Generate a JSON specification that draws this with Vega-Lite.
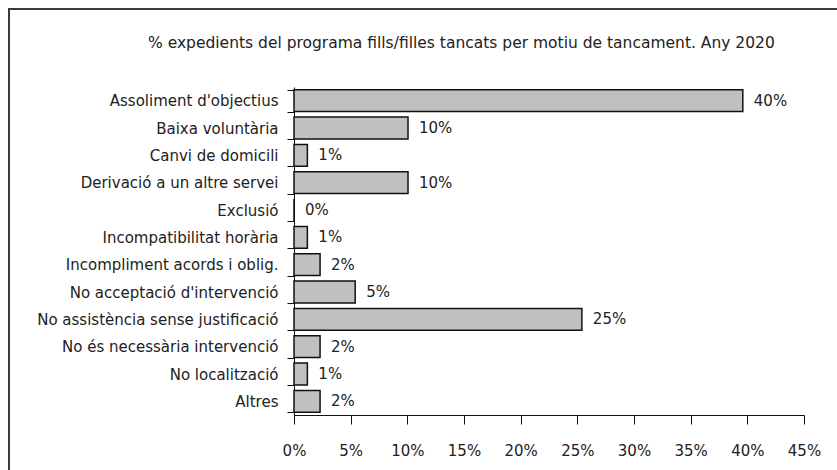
{
  "$schema": "https://vega.github.io/schema/vega-lite/v6.json",
  "width": 840,
  "height": 470,
  "autosize": {"type": "none"},
  "padding": {"left": 9, "top": 9, "right": 0, "bottom": 0},
  "background": "white",
  "title": {
    "text": "%  expedients del programa fills/filles tancats per motiu de tancament. Any 2020",
    "anchor": "start",
    "frame": "group",
    "dx": 139,
    "offset": -56,
    "baseline": "middle",
    "font": "DejaVu Sans",
    "fontSize": 15.5,
    "fontWeight": "normal",
    "color": "#222"
  },
  "data": {
    "values": [
      {"motiu": "Assoliment d'objectius", "pct": 0.396},
      {"motiu": "Baixa voluntària", "pct": 0.1006},
      {"motiu": "Canvi de domicili", "pct": 0.0118},
      {"motiu": "Derivació a un altre servei", "pct": 0.1006},
      {"motiu": "Exclusió", "pct": 0},
      {"motiu": "Incompatibilitat horària", "pct": 0.0118},
      {"motiu": "Incompliment acords i oblig.", "pct": 0.023},
      {"motiu": "No acceptació d'intervenció", "pct": 0.054},
      {"motiu": "No assistència sense justificació", "pct": 0.254},
      {"motiu": "No és necessària intervenció", "pct": 0.023},
      {"motiu": "No localització", "pct": 0.0118},
      {"motiu": "Altres", "pct": 0.023}
    ]
  },
  "encoding": {
    "y": {
      "field": "motiu",
      "type": "nominal",
      "sort": null,
      "scale": {"range": [78, 406], "paddingInner": 0.2, "paddingOuter": 0.1},
      "axis": {
        "title": null,
        "orient": "left",
        "offset": -285,
        "tickBand": "extent",
        "tickSize": 7,
        "tickColor": "#111",
        "domainColor": "#111",
        "labelPadding": 9,
        "labelFont": "DejaVu Sans",
        "labelFontSize": 15,
        "labelColor": "#222",
        "labelLimit": 400
      }
    },
    "x": {
      "field": "pct",
      "type": "quantitative",
      "scale": {"domain": [0, 0.45], "range": [285, 795], "nice": false},
      "axis": {
        "title": null,
        "orient": "bottom",
        "offset": -64,
        "format": ".0%",
        "values": [0, 0.05, 0.1, 0.15, 0.2, 0.25, 0.3, 0.35, 0.4, 0.45],
        "grid": false,
        "tickSize": 9,
        "tickColor": "#111",
        "domainColor": "#111",
        "labelPadding": 19,
        "labelBaseline": "top",
        "labelFont": "DejaVu Sans",
        "labelFontSize": 15,
        "labelColor": "#222",
        "labelFlush": false
      }
    }
  },
  "layer": [
    {
      "mark": {"type": "bar", "color": "#c0c0c0", "stroke": "#111", "strokeWidth": 1.5}
    },
    {
      "mark": {"type": "text", "align": "left", "baseline": "middle", "dx": 11, "font": "DejaVu Sans", "fontSize": 15, "color": "#222"},
      "encoding": {
        "text": {"field": "pct", "type": "quantitative", "format": ".0%"}
      }
    }
  ],
  "config": {
    "view": {"stroke": "#3a3a3a", "strokeWidth": 2}
  }
}
